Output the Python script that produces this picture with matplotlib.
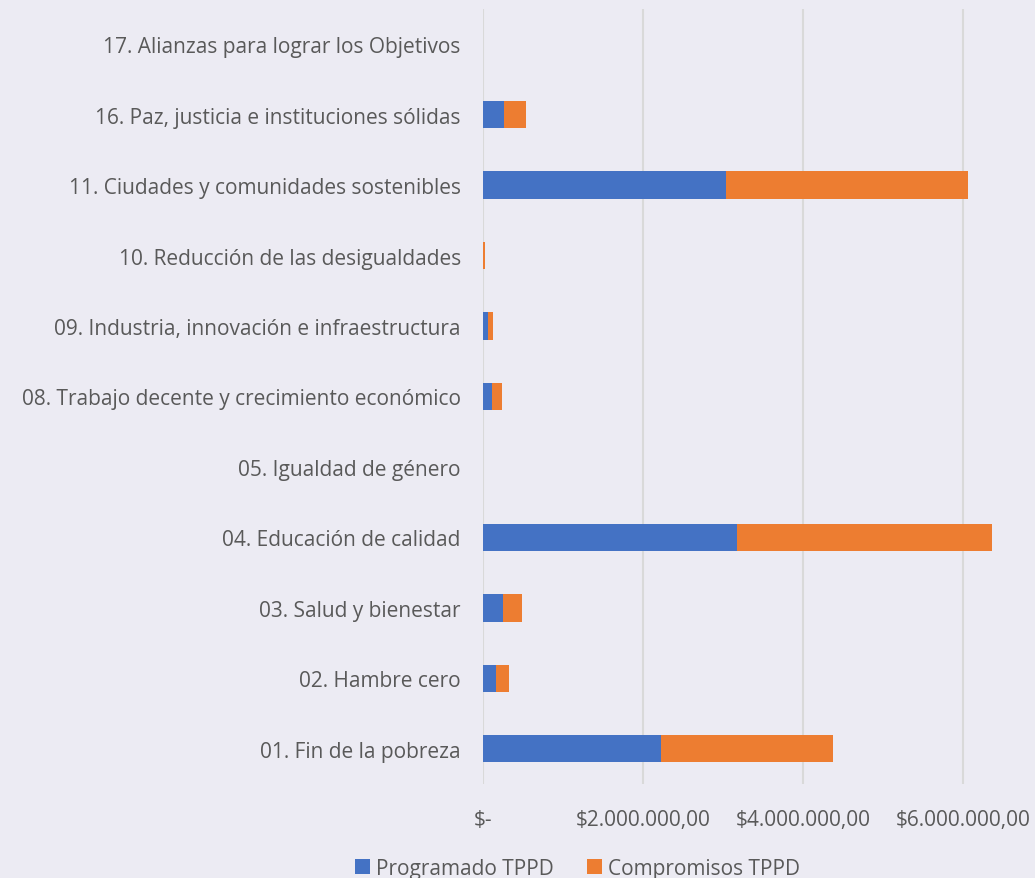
import matplotlib.pyplot as plt
from matplotlib.ticker import FuncFormatter

# datos del gráfico
categorias = [
    "01. Fin de la pobreza",
    "02. Hambre cero",
    "03. Salud y bienestar",
    "04. Educación de calidad",
    "05. Igualdad de género",
    "08. Trabajo decente y crecimiento económico",
    "09. Industria, innovación e infraestructura",
    "10. Reducción de las desigualdades",
    "11. Ciudades y comunidades sostenibles",
    "16. Paz, justicia e instituciones sólidas",
    "17. Alianzas para lograr los Objetivos",
]
programado = [2220000, 165000, 255000, 3170000, 0, 110000, 60000, 0, 3040000, 265000, 0]
compromisos = [2150000, 155000, 235000, 3190000, 0, 130000, 60000, 20000, 3020000, 270000, 0]
ticks_x = [0, 2000000, 4000000, 6000000]

AZUL = "#4472C4"
NARANJA = "#ED7D31"
FONDO = "#ECEBF3"
GRIS = "#595959"

plt.rcParams['font.family'] = ['Open Sans', 'DejaVu Sans']

fig = plt.figure(figsize=(10.35, 8.79), dpi=100, facecolor=FONDO)
ax = fig.add_axes([0.4667, 0.107, 0.5333, 0.8816], facecolor=FONDO)

pos = list(range(len(categorias)))
ax.barh(pos, programado, height=0.39, color=AZUL, linewidth=0,
        label="Programado TPPD", zorder=3)
ax.barh(pos, compromisos, left=programado, height=0.39, color=NARANJA, linewidth=0,
        label="Compromisos TPPD", zorder=3)

ax.set_ylim(-0.5, len(categorias) - 0.5)
ax.set_xlim(0, 6900000)
ax.set_yticks(pos)
ax.set_yticklabels(categorias, fontsize=15, color=GRIS)
ax.set_xticks(ticks_x)


def formato(v, _):
    if v == 0:
        return "$-"
    return "$" + f"{v:,.2f}".replace(",", "X").replace(".", ",").replace("X", ".")


ax.xaxis.set_major_formatter(FuncFormatter(formato))
ax.tick_params(axis='x', labelsize=15, labelcolor=GRIS, length=0, pad=18)
ax.tick_params(axis='y', length=0, pad=16)
for lbl in ax.get_xticklabels():
    lbl.set_horizontalalignment('center')

ax.grid(axis='x', color="#D9D9D9", linewidth=1.5, zorder=0)
for s in ax.spines.values():
    s.set_visible(False)

fig.legend(loc='center', bbox_to_anchor=(0.558, 0.011), ncol=2, frameon=False,
           fontsize=15, labelcolor=GRIS, handlelength=0.7, handleheight=0.7,
           handletextpad=0.3, columnspacing=1.6)

fig.savefig("out.png", dpi=100, facecolor=FONDO)
